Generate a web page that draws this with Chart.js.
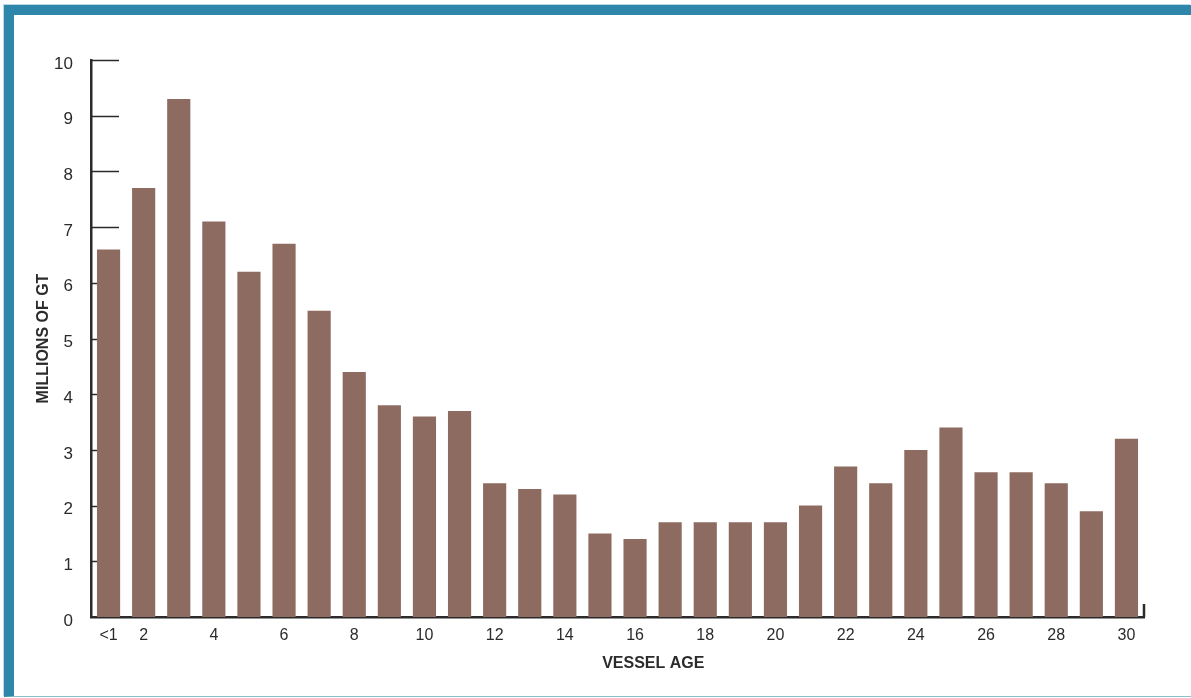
<!DOCTYPE html>
<html>
<head>
<meta charset="utf-8">
<script src="https://cdn.jsdelivr.net/npm/chart.js@4/dist/chart.umd.min.js"></script>
<style>
  html, body { margin: 0; padding: 0; background: #fff; }
  body { width: 1191px; height: 698px; position: relative; overflow: hidden; }
  #frame {
    position: absolute; left: 4px; top: 5px; right: 0; bottom: 1px;
    border-top: 10px solid #2e87ab; border-left: 10px solid #2e87ab;
    border-bottom: 1px solid #8fbfca;
    box-shadow: -1px -1px 0 #b9dbe8;
  }
  #wrap { position: absolute; left: 0; top: 0; width: 1191px; height: 698px; }
</style>
</head>
<body>
<div id="frame"></div>
<div id="wrap"><canvas id="ageChart" width="1191" height="698"></canvas></div>
<script>
// vessel age categories and tonnage (millions of GT)
var ages = ['<1', '2', '3', '4', '5', '6', '7', '8', '9', '10',
            '11', '12', '13', '14', '15', '16', '17', '18', '19', '20',
            '21', '22', '23', '24', '25', '26', '27', '28', '29', '30'];
var tonnage = [6.6, 7.7, 9.3, 7.1, 6.2, 6.7, 5.5, 4.4, 3.8, 3.6,
               3.7, 2.4, 2.3, 2.2, 1.5, 1.4, 1.7, 1.7, 1.7, 1.7,
               2.0, 2.7, 2.4, 3.0, 3.4, 2.6, 2.6, 2.4, 1.9, 3.2];
var yTicks = [0, 1, 2, 3, 4, 5, 6, 7, 8, 9, 10];

var fontFam = "'Liberation Sans', Arial, sans-serif";
var ink = '#2b2b2b';

// short tick marks drawn inward from the y axis, plus end tick on x axis
var innerTicks = {
    id: 'innerTicks',
    beforeDatasetsDraw: function(chart) {
        var ctx = chart.ctx;
        var y = chart.scales.y;
        var x0 = chart.chartArea.left;
        ctx.save();
        ctx.strokeStyle = ink;
        ctx.lineWidth = 1.5;
        yTicks.forEach(function(v) {
            if (v === 0) return;
            var py = Math.round(y.getPixelForValue(v)) + 0.5;
            ctx.beginPath();
            ctx.moveTo(x0, py);
            ctx.lineTo(x0 + 28, py);
            ctx.stroke();
        });
        ctx.restore();
    },
    afterDraw: function(chart) {
        var ctx = chart.ctx;
        var a = chart.chartArea;
        ctx.save();
        ctx.strokeStyle = ink;
        ctx.lineWidth = 2.5;
        ctx.beginPath();
        ctx.moveTo(a.right, a.bottom);
        ctx.lineTo(a.right, a.bottom - 13);
        ctx.stroke();
        // x axis title
        ctx.fillStyle = ink;
        ctx.font = 'bold 16px ' + fontFam;
        ctx.textAlign = 'center';
        ctx.textBaseline = 'middle';
        ctx.fillText('VESSEL AGE', a.left + (a.right - a.left) * 0.534, a.bottom + 47);
        ctx.restore();
    }
};

var ctx = document.getElementById('ageChart').getContext('2d');
var ageChart = new Chart(ctx, {
    type: 'bar',
    data: {
        labels: ages,
        datasets: [{
            label: 'Millions of GT',
            data: tonnage,
            backgroundColor: '#8e6b61',
            barPercentage: 0.66,
            categoryPercentage: 1.0
        }]
    },
    options: {
        responsive: false,
        animation: false,
        devicePixelRatio: 1,
        layout: { padding: { top: 60, right: 47, bottom: 0, left: 0 } },
        plugins: {
            legend: { display: false },
            tooltip: { enabled: false }
        },
        scales: {
            x: {
                grid: { display: false, drawTicks: false },
                border: { display: true, color: ink, width: 2.5 },
                ticks: {
                    color: ink,
                    padding: 9,
                    maxRotation: 0,
                    autoSkip: false,
                    font: { family: fontFam, size: 16 },
                    callback: function(val, i) {
                        return (i === 0 || (i + 1) % 2 === 0) ? ages[i] : '';
                    }
                },
                afterFit: function(s) { s.height = 81; }
            },
            y: {
                min: 0,
                max: 10,
                afterBuildTicks: function(s) {
                    s.ticks = yTicks.map(function(v) { return { value: v }; });
                },
                grid: { display: false, drawTicks: false },
                border: { display: true, color: ink, width: 2.5 },
                ticks: {
                    color: ink,
                    padding: 18,
                    labelOffset: 4,
                    font: { family: fontFam, size: 17 }
                },
                title: {
                    display: true,
                    text: 'MILLIONS OF GT',
                    color: ink,
                    padding: { top: 34, bottom: 0 },
                    font: { family: fontFam, size: 16, weight: 'bold' }
                },
                afterFit: function(s) { s.width = 91; }
            }
        }
    },
    plugins: [innerTicks]
});
</script>
</body>
</html>
